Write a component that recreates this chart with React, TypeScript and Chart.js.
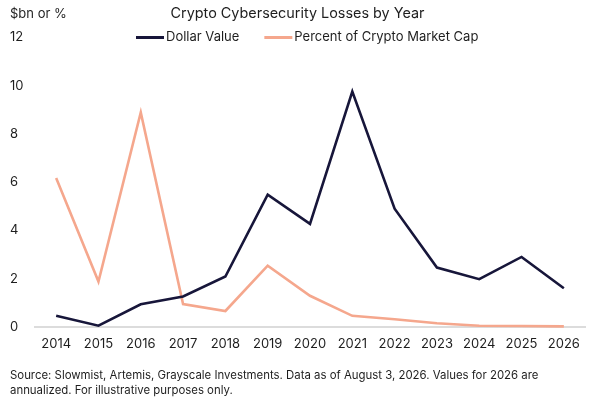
import React, { useEffect, useRef } from "react";
import { Chart, registerables } from "chart.js";

Chart.register(...registerables);

const years = ["2014", "2015", "2016", "2017", "2018", "2019", "2020", "2021", "2022", "2023", "2024", "2025", "2026"];
const dollarValue = [0.46, 0.05, 0.94, 1.26, 2.09, 5.48, 4.27, 9.76, 4.9, 2.46, 1.98, 2.9, 1.6];
const percentMarketCap = [6.17, 1.88, 8.89, 0.95, 0.66, 2.54, 1.29, 0.46, 0.32, 0.15, 0.05, 0.04, 0.02];
const seriesNames = ["Dollar Value", "Percent of Crypto Market Cap"];
const chartTitle = "Crypto Cybersecurity Losses by Year";
const yUnitLabel = "$bn or %";
const footerLines = [
  "Source: Slowmist, Artemis, Grayscale Investments. Data as of August 3, 2026. Values for 2026 are",
  "annualized. For illustrative purposes only.",
];

const NAVY = "#17163a";
const SALMON = "#f5a78d";
const TEXT = "#1e1e1e";
const FONT = "Inter, 'Noto Sans', sans-serif";

const overlayPlugin = {
  id: "overlayText",
  afterDraw(chart: any) {
    const ctx = chart.ctx;
    ctx.save();
    ctx.font = `13px ${FONT}`;
    ctx.fillStyle = TEXT;
    ctx.textBaseline = "middle";
    ctx.textAlign = "left";
    ctx.fillText(yUnitLabel, 10, 14);

    // legend
    const y = 37.5;
    let x = 136;
    const colors = [NAVY, SALMON];
    seriesNames.forEach((name, i) => {
      ctx.strokeStyle = colors[i];
      ctx.lineWidth = 3;
      ctx.lineCap = "butt";
      ctx.beginPath();
      ctx.moveTo(x, y);
      ctx.lineTo(x + 28, y);
      ctx.stroke();
      x += 30;
      ctx.fillStyle = TEXT;
      ctx.fillText(name, x, y);
      x += ctx.measureText(name).width + 25;
    });
    ctx.restore();
  },
};

export default function App() {
  const ref = useRef<HTMLCanvasElement | null>(null);

  useEffect(() => {
    if (!ref.current) return;
    const chart = new Chart(ref.current, {
      type: "line",
      data: {
        labels: years,
        datasets: [
          {
            label: seriesNames[0],
            data: dollarValue,
            borderColor: NAVY,
            backgroundColor: NAVY,
            borderWidth: 2.6,
            pointRadius: 0,
            tension: 0,
            clip: 6,
          },
          {
            label: seriesNames[1],
            data: percentMarketCap,
            borderColor: SALMON,
            backgroundColor: SALMON,
            borderWidth: 2.6,
            pointRadius: 0,
            tension: 0,
            clip: 6,
          },
        ],
      },
      options: {
        responsive: false,
        animation: false,
        layout: { padding: { left: 10, right: 15, top: 0, bottom: 0 } },
        plugins: {
          legend: { display: false },
          tooltip: { enabled: false },
          title: {
            display: true,
            text: chartTitle,
            color: TEXT,
            font: { family: FONT, size: 14.4, weight: "normal", lineHeight: 1.25 },
            padding: { top: 5, bottom: 14.5 },
          },
          subtitle: {
            display: true,
            position: "bottom",
            align: "start",
            text: footerLines,
            color: TEXT,
            font: { family: FONT, size: 11.4, weight: "normal", lineHeight: 1.32 },
            padding: { top: 8, bottom: 2 },
          },
        },
        scales: {
          x: {
            offset: true,
            grid: { display: false, drawTicks: false },
            border: { display: true, color: "#dcdcdc", width: 2 },
            ticks: {
              color: TEXT,
              font: { family: FONT, size: 13 },
              padding: 9,
              maxRotation: 0,
              autoSkip: false,
            },
            afterFit: (s: any) => {
              s.height = 33;
            },
          },
          y: {
            min: 0,
            max: 12,
            grid: { display: false, drawTicks: false },
            border: { display: false },
            ticks: {
              stepSize: 2,
              color: TEXT,
              font: { family: FONT, size: 13 },
              crossAlign: "far",
              padding: 10,
            },
            afterFit: (s: any) => {
              s.width = 25;
            },
          },
        },
      },
      plugins: [overlayPlugin],
    } as any);
    return () => chart.destroy();
  }, []);

  return (
    <div style={{ position: "absolute", left: 0, top: 0, width: 600, height: 400, background: "#fff" }}>
      <canvas ref={ref} width={600} height={400} />
    </div>
  );
}
